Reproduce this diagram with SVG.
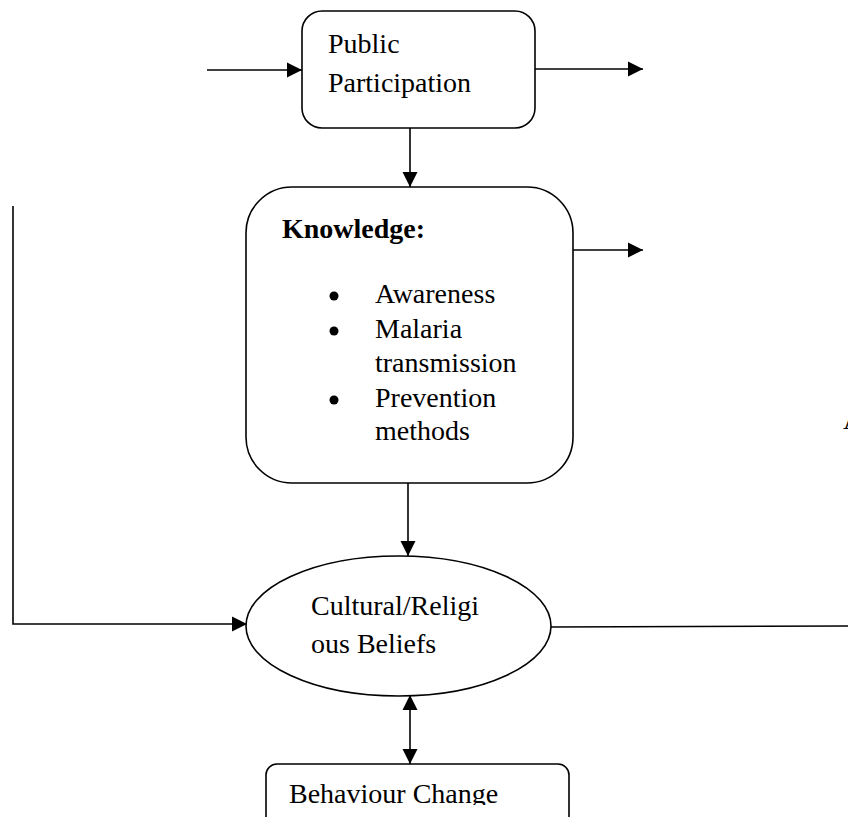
<svg xmlns="http://www.w3.org/2000/svg" width="848" height="817" viewBox="0 0 848 817">
<style>
.box{fill:#fff;stroke:#000;stroke-width:1.6}
.ln{fill:none;stroke:#000;stroke-width:1.6}
.t{font-family:"Liberation Serif","Times New Roman",serif;font-size:28px;fill:#000}
.b{font-weight:bold}
</style>
<defs>
<marker id="ah" markerUnits="userSpaceOnUse" markerWidth="16" markerHeight="16" viewBox="0 0 16 16" refX="15" refY="8" orient="auto-start-reverse">
<path d="M0,0.5 L15,8 L0,15.5 Z" fill="#000"/>
</marker>
<clipPath id="bcclip"><rect x="266" y="764" width="303" height="41"/></clipPath>
</defs>
<g id="connectors">
<line class="ln" x1="207" y1="70" x2="302" y2="70" marker-end="url(#ah)"/>
<line class="ln" x1="535" y1="69" x2="643" y2="69" marker-end="url(#ah)"/>
<line class="ln" x1="410" y1="123" x2="410" y2="187" marker-end="url(#ah)"/>
<line class="ln" x1="573" y1="250" x2="643" y2="250" marker-end="url(#ah)"/>
<line class="ln" x1="408" y1="483" x2="408" y2="556" marker-end="url(#ah)"/>
<polyline class="ln" points="13,206 13,624 247,624" marker-end="url(#ah)"/>
<line class="ln" x1="551" y1="627" x2="848" y2="626"/>
<line class="ln" x1="410" y1="695" x2="410" y2="764" marker-start="url(#ah)" marker-end="url(#ah)"/>
</g>
<g id="public-participation">
<rect class="box" x="302" y="11" width="233" height="117" rx="20" ry="20"/>
<text class="t" x="328" y="53">Public</text>
<text class="t" x="328" y="92">Participation</text>
</g>
<g id="knowledge">
<rect class="box" x="246" y="187" width="327" height="296" rx="46" ry="46"/>
<text class="t b" x="282" y="238">Knowledge:</text>
<circle cx="334" cy="296" r="4.5"/>
<circle cx="334" cy="331" r="4.5"/>
<circle cx="334" cy="400" r="4.5"/>
<text class="t" x="375" y="303">Awareness</text>
<text class="t" x="375" y="338">Malaria</text>
<text class="t" x="375" y="372">transmission</text>
<text class="t" x="375" y="407">Prevention</text>
<text class="t" x="375" y="440">methods</text>
</g>
<g id="beliefs">
<ellipse class="box" cx="398.5" cy="626" rx="152.5" ry="70"/>
<text class="t" x="311" y="615">Cultural/Religi</text>
<text class="t" x="311" y="653">ous Beliefs</text>
</g>
<g id="behaviour-change">
<rect class="box" x="266" y="764" width="303" height="70" rx="11" ry="11"/>
<text class="t" x="289" y="803" clip-path="url(#bcclip)">Behaviour Change</text>
</g>
<text class="t" x="843" y="429">A</text>
</svg>
